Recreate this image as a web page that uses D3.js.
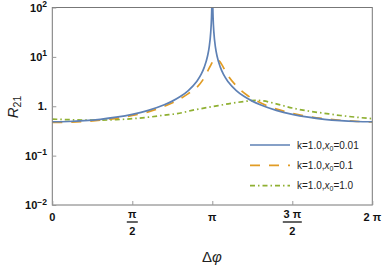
<!DOCTYPE html>
<html>
<head>
<script src="https://d3js.org/d3.v7.min.js"></script>
<style>
  body { margin: 0; background: #fff; }
  svg { font-family: "Liberation Sans", Arial, sans-serif; }
  .tick-label { font-size: 11px; font-weight: bold; fill: #111; }
  .legend-text { font-size: 10px; fill: #222; }
</style>
</head>
<body>
<svg id="chart" width="382" height="265"></svg>
<script>
  // phase in units of pi, R21 values
  const bluePhase = [0, 0.1, 0.2, 0.3, 0.4, 0.5, 0.6, 0.7, 0.75, 0.8, 0.85, 0.9, 0.93, 0.95, 0.97, 0.98, 0.99, 0.995, 0.998, 1.0,
                     1.002, 1.005, 1.01, 1.02, 1.03, 1.05, 1.07, 1.1, 1.15, 1.2, 1.25, 1.3, 1.4, 1.5, 1.6, 1.7, 1.8, 1.9, 2.0];
  const blueR = [0.485, 0.491, 0.51, 0.544, 0.60, 0.686, 0.825, 1.07, 1.27, 1.57, 2.08, 3.1, 4.4, 6.2, 10.3, 15.4, 31, 62, 150, 400,
                 150, 62, 31, 15.4, 10.3, 6.2, 4.4, 3.1, 2.08, 1.57, 1.27, 1.07, 0.825, 0.686, 0.60, 0.544, 0.51, 0.491, 0.485];

  const orangePhase = [0, 0.1, 0.2, 0.3, 0.4, 0.5, 0.6, 0.7, 0.78, 0.85, 0.9, 0.95, 0.985, 1.005, 1.025, 1.05, 1.09, 1.16, 1.22, 1.27, 1.35, 1.5, 1.6, 1.7, 1.8, 1.9, 2.0];
  const orangeR = [0.47, 0.475, 0.49, 0.52, 0.57, 0.65, 0.77, 1.0, 1.3, 1.8, 2.35, 3.8, 6.3, 8.2, 9.2, 7.8, 4.6, 2.4, 1.65, 1.32, 1.0, 0.72, 0.62, 0.56, 0.52, 0.495, 0.48];

  const greenPhase = [0, 0.1, 0.2, 0.3, 0.4, 0.5, 0.6, 0.7, 0.78, 0.9, 1.0, 1.1, 1.2, 1.27, 1.32, 1.4, 1.5, 1.6, 1.7, 1.8, 1.9, 2.0];
  const greenR = [0.55, 0.535, 0.525, 0.525, 0.535, 0.56, 0.6, 0.66, 0.71, 0.86, 0.98, 1.12, 1.25, 1.32, 1.28, 1.12, 0.92, 0.8, 0.72, 0.65, 0.6, 0.56];

  const seriesNames = ["0.01", "0.1", "1.0"];
  const seriesColors = ["#5e81b5", "#e19c24", "#8fb032"];
  const seriesDash = [null, "10,9", "5,3,1.5,3"];

  const xTicks = [0, 0.5, 1, 1.5, 2];
  const xTickNum = ["0", "π", "π", "3 π", "2 π"];
  const xTickDen = [null, "2", null, "2", null];
  const yTicks = [0.01, 0.1, 1, 10, 100];
  const yTickBase = ["10", "10", "1.", "10", "10"];
  const yTickExp = ["−2", "−1", null, "1", "2"];

  const svg = d3.select("#chart");
  const plotLeft = 52.3, plotRight = 372.3, plotTop = 7.5, plotBottom = 205;

  const x = d3.scaleLinear().domain([0, 2 * Math.PI]).range([plotLeft, plotRight]);
  const y = d3.scaleLog().domain([0.01, 100]).range([plotBottom, plotTop]);

  svg.append("clipPath").attr("id", "plotclip")
    .append("rect").attr("x", plotLeft).attr("y", plotTop)
    .attr("width", plotRight - plotLeft).attr("height", plotBottom - plotTop);

  const line = d3.line()
    .x(d => x(d[0] * Math.PI))
    .y(d => y(d[1]))
    .curve(d3.curveMonotoneX);

  const series = [
    d3.zip(bluePhase, blueR),
    d3.zip(orangePhase, orangeR),
    d3.zip(greenPhase, greenR)
  ];

  // draw green first, blue on top
  [2, 1, 0].forEach(i => {
    svg.append("path")
      .datum(series[i])
      .attr("clip-path", "url(#plotclip)")
      .attr("d", line)
      .attr("fill", "none")
      .attr("stroke", seriesColors[i])
      .attr("stroke-width", 1.7)
      .attr("stroke-dasharray", seriesDash[i]);
  });

  // frame
  svg.append("rect")
    .attr("x", plotLeft).attr("y", plotTop)
    .attr("width", plotRight - plotLeft).attr("height", plotBottom - plotTop)
    .attr("fill", "none").attr("stroke", "#777").attr("stroke-width", 1);

  // axes ticks (inside)
  const xAxis = svg.append("g")
    .attr("transform", `translate(0,${plotBottom})`)
    .call(d3.axisBottom(x).tickValues(xTicks.map(t => t * Math.PI)).tickSize(-4).tickFormat(""));
  const yAxis = svg.append("g")
    .attr("transform", `translate(${plotLeft},0)`)
    .call(d3.axisLeft(y).tickValues(yTicks).tickSize(-4).tickFormat(""));
  [xAxis, yAxis].forEach(g => {
    g.select(".domain").remove();
    g.selectAll("line").attr("stroke", "#999");
  });

  // x tick labels
  xTicks.forEach((t, i) => {
    const cx = x(t * Math.PI);
    if (xTickDen[i]) {
      svg.append("text").attr("class", "tick-label")
        .attr("x", cx).attr("y", 218).attr("text-anchor", "middle").text(xTickNum[i]);
      const half = xTickNum[i].length > 1 ? 9.5 : 5.5;
      svg.append("line")
        .attr("x1", cx - half).attr("x2", cx + half)
        .attr("y1", 222).attr("y2", 222).attr("stroke", "#111").attr("stroke-width", 1.3);
      svg.append("text").attr("class", "tick-label")
        .attr("x", cx).attr("y", 235).attr("text-anchor", "middle").text(xTickDen[i]);
    } else {
      svg.append("text").attr("class", "tick-label")
        .attr("x", cx).attr("y", 221).attr("text-anchor", "middle").text(xTickNum[i]);
    }
  });

  // y tick labels
  yTicks.forEach((t, i) => {
    const txt = svg.append("text").attr("class", "tick-label")
      .attr("x", 47).attr("y", y(t) + 4).attr("text-anchor", "end");
    txt.append("tspan").text(yTickBase[i]);
    if (yTickExp[i]) {
      txt.append("tspan").attr("dy", -4.5).attr("font-size", "8.5px").text(yTickExp[i]);
    }
  });

  // axis labels
  svg.append("text")
    .attr("x", 212).attr("y", 262)
    .attr("text-anchor", "middle")
    .attr("font-size", "15px").attr("fill", "#222")
    .html('Δ<tspan font-style="italic">φ</tspan>');

  const ylab = svg.append("text")
    .attr("transform", "translate(18,107) rotate(-90)")
    .attr("text-anchor", "middle")
    .attr("font-size", "15px").attr("fill", "#222");
  ylab.append("tspan").attr("font-style", "italic").text("R");
  ylab.append("tspan").attr("font-size", "10.5px").attr("dy", 3).text("21");

  // legend
  const legend = svg.append("g");
  seriesNames.forEach((name, i) => {
    const ly = 145 + i * 20.3;
    legend.append("line")
      .attr("x1", 250).attr("x2", 290).attr("y1", ly).attr("y2", ly)
      .attr("stroke", seriesColors[i]).attr("stroke-width", 1.7)
      .attr("stroke-dasharray", seriesDash[i]);
    const t = legend.append("text").attr("class", "legend-text")
      .attr("x", 297).attr("y", ly + 3.5);
    t.append("tspan").text("k=1.0,");
    t.append("tspan").attr("font-style", "italic").text("x");
    t.append("tspan").attr("font-size", "7px").attr("dy", 2).text("0");
    t.append("tspan").attr("dy", -2).text("=" + name);
  });
</script>
</body>
</html>
